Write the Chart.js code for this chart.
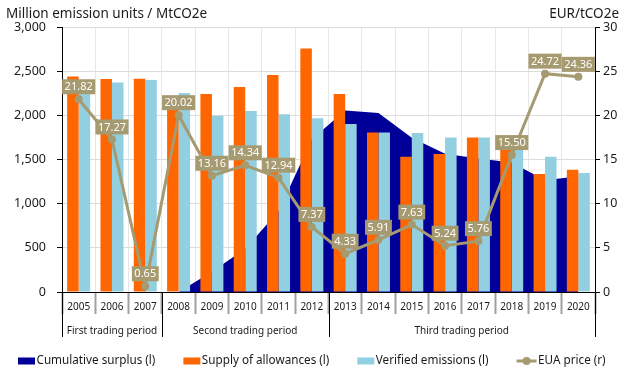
<!DOCTYPE html>
<html>
<head>
<meta charset="utf-8">
<script src="https://cdn.jsdelivr.net/npm/chart.js@4"></script>
<style>
  html, body { margin: 0; padding: 0; background: #fff; }
  #wrap { width: 632px; height: 369px; position: relative; }
</style>
</head>
<body>
<div id="wrap"><canvas id="chartEts" width="632" height="369"></canvas></div>
<script>
// data
const years = ['2005', '2006', '2007', '2008', '2009', '2010', '2011', '2012', '2013', '2014', '2015', '2016', '2017', '2018', '2019', '2020'];
const surplus = [null, null, null, 0, 230, 490, 915, 1730, 2055, 2026, 1745, 1565, 1510, 1465, 1265, 1310];
const supply = [2441, 2411, 2415, 2150, 2242, 2321, 2457, 2758, 2242, 1807, 1532, 1562, 1750, 1620, 1336, 1385];
const verified = [2340, 2373, 2400, 2253, 1996, 2049, 2011, 1968, 1903, 1807, 1800, 1750, 1750, 1680, 1532, 1347];
const price = [21.82, 17.27, 0.65, 20.02, 13.16, 14.34, 12.94, 7.37, 4.33, 5.91, 7.63, 5.24, 5.76, 15.50, 24.72, 24.36];
const periodNames = ['First trading period', 'Second trading period', 'Third trading period'];
const periodFirstYear = ['2005', '2008', '2013'];
const seriesNames = ['Cumulative surplus (l)', 'Supply of allowances (l)', 'Verified emissions (l)', 'EUA price (r)'];
const leftTitle = 'Million emission units / MtCO2e';
const rightTitle = 'EUR/tCO2e';

const FONT = '"Noto Sans", "Open Sans", sans-serif';
const C_SURPLUS = '#000099';
const C_SUPPLY = '#ff6600';
const C_VERIFIED = '#92d0e1';
const C_PRICE = '#a69a70';

// titles, period row, legend and the price labels
const decor = {
    id: 'decor',
    afterDatasetsDraw(chart) {
        const ctx = chart.ctx;
        const meta = chart.getDatasetMeta(3);
        ctx.save();
        ctx.font = '11px ' + FONT;
        ctx.textAlign = 'center';
        ctx.textBaseline = 'middle';
        meta.data.forEach((pt, i) => {
            const txt = price[i].toFixed(2);
            const w = ctx.measureText(txt).width + 5;
            const h = 15;
            const bottom = pt.y - 5;
            ctx.fillStyle = C_PRICE;
            ctx.fillRect(pt.x - w / 2, bottom - h, w, h);
            ctx.fillStyle = '#fff';
            ctx.fillText(txt, pt.x, bottom - h / 2 + 0.5);
        });
        ctx.restore();
    },
    afterDraw(chart) {
        const ctx = chart.ctx;
        const area = chart.chartArea;
        const x = chart.scales.x;
        ctx.save();

        // axis titles
        ctx.fillStyle = '#1a1a1a';
        ctx.font = '13.5px ' + FONT;
        ctx.textBaseline = 'alphabetic';
        ctx.textAlign = 'left';
        ctx.fillText(leftTitle, 6, 18);
        ctx.textAlign = 'right';
        ctx.fillText(rightTitle, 619, 18);

        // trading periods under the years
        const half = (x.getPixelForValue(1) - x.getPixelForValue(0)) / 2;
        const bounds = periodFirstYear.map(y => x.getPixelForValue(years.indexOf(y)) - half);
        bounds.push(area.right);
        ctx.strokeStyle = '#000';
        ctx.lineWidth = 1;
        bounds.forEach(b => {
            const bx = Math.round(b) + 0.5;
            ctx.beginPath();
            ctx.moveTo(bx, area.bottom);
            ctx.lineTo(bx, 337);
            ctx.stroke();
        });
        ctx.font = '10px ' + FONT;
        ctx.textAlign = 'center';
        ctx.textBaseline = 'middle';
        periodNames.forEach((p, i) => {
            ctx.fillText(p, (bounds[i] + bounds[i + 1]) / 2, 331);
        });

        // legend
        ctx.font = '11.7px ' + FONT;
        ctx.textAlign = 'left';
        const ly = 361;
        let lx = 18;
        const colors = [C_SURPLUS, C_SUPPLY, C_VERIFIED];
        seriesNames.forEach((name, i) => {
            if (i < 3) {
                ctx.fillStyle = colors[i];
                ctx.fillRect(lx, ly - 3.5, 17, 7);
            } else {
                ctx.strokeStyle = C_PRICE;
                ctx.lineWidth = 3;
                ctx.beginPath();
                ctx.moveTo(lx, ly);
                ctx.lineTo(lx + 20, ly);
                ctx.stroke();
                ctx.fillStyle = C_PRICE;
                ctx.beginPath();
                ctx.arc(lx + 10, ly, 4, 0, Math.PI * 2);
                ctx.fill();
                lx += 3;
            }
            lx += 18.5;
            ctx.fillStyle = '#1a1a1a';
            ctx.fillText(name, lx, ly);
            lx += ctx.measureText(name).width + 28;
        });
        ctx.restore();
    }
};

new Chart(document.getElementById('chartEts'), {
    type: 'bar',
    data: {
        labels: years,
        datasets: [
            {
                type: 'line',
                label: seriesNames[0],
                data: surplus,
                backgroundColor: C_SURPLUS,
                borderWidth: 0,
                pointRadius: 0,
                fill: 'origin',
                tension: 0,
                yAxisID: 'y',
                order: 3
            },
            {
                label: seriesNames[1],
                data: supply,
                backgroundColor: C_SUPPLY,
                categoryPercentage: 0.69,
                barPercentage: 1.0,
                yAxisID: 'y',
                order: 2
            },
            {
                label: seriesNames[2],
                data: verified,
                backgroundColor: C_VERIFIED,
                categoryPercentage: 0.69,
                barPercentage: 1.0,
                yAxisID: 'y',
                order: 2
            },
            {
                type: 'line',
                label: seriesNames[3],
                data: price,
                borderColor: C_PRICE,
                backgroundColor: C_PRICE,
                borderWidth: 3,
                pointRadius: 4,
                pointBackgroundColor: C_PRICE,
                pointBorderWidth: 0,
                tension: 0,
                yAxisID: 'y1',
                order: 0
            }
        ]
    },
    options: {
        responsive: false,
        animation: false,
        layout: { padding: { top: 27, left: 0, right: 0, bottom: 0 } },
        plugins: {
            legend: { display: false },
            tooltip: { enabled: false }
        },
        scales: {
            x: {
                offset: true,
                afterFit: s => { s.height = 77; },
                grid: {
                    offset: true,
                    color: '#e6e6e6',
                    lineWidth: 1,
                    tickLength: 22,
                    tickColor: '#a0a0a0',
                    tickWidth: 2
                },
                border: { color: '#000', width: 1 },
                ticks: {
                    font: { family: FONT, size: 10 },
                    color: '#1a1a1a',
                    padding: -13,
                    maxRotation: 0
                }
            },
            y: {
                position: 'left',
                min: 0,
                max: 3000,
                afterFit: s => { s.width = 62; },
                ticks: {
                    stepSize: 500,
                    font: { family: FONT, size: 12.5 },
                    color: '#1a1a1a',
                    padding: 11,
                    callback: v => v.toLocaleString('en-US')
                },
                grid: { color: '#dcdcdc', tickColor: '#000', tickLength: 5 },
                border: { color: '#000', width: 1 }
            },
            y1: {
                position: 'right',
                min: 0,
                max: 30,
                afterFit: s => { s.width = 37; },
                ticks: {
                    stepSize: 5,
                    font: { family: FONT, size: 12.5 },
                    color: '#1a1a1a',
                    padding: 3
                },
                grid: { drawOnChartArea: false, tickColor: '#000', tickLength: 5 },
                border: { color: '#000', width: 1 }
            }
        }
    },
    plugins: [decor]
});
</script>
</body>
</html>
